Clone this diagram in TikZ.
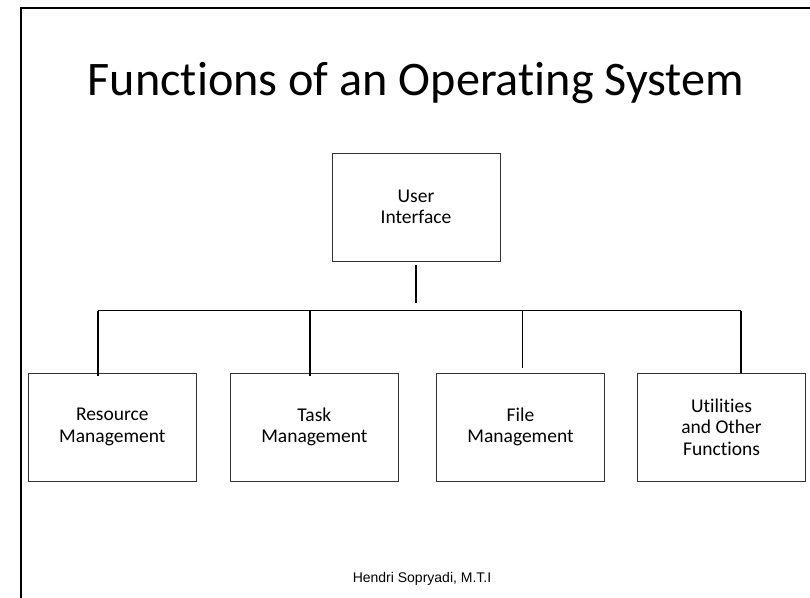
\documentclass[tikz,border=0pt]{standalone}
\usepackage{fontspec}
\setmainfont{Carlito}[Ligatures=CommonOff]
\newfontfamily\footfont{Liberation Sans}
\usetikzlibrary{calc}
\begin{document}
\begin{tikzpicture}[x=1pt,y=-1pt,
  box/.style={draw=black!80, line width=0.9pt, minimum width=168pt, minimum height=108pt, inner sep=0pt, align=center, font=\fontsize{19.5}{21.5}\selectfont},
  link/.style={line width=1.8pt},
  thinlink/.style={line width=1pt},
  bar/.style={line width=1.3pt}]
\useasboundingbox (0,0) rectangle (810,597);
\begin{scope}
\clip (0,0) rectangle (810,597);
\draw[line width=2pt] (20.5,620) |- (830,7.7);
\end{scope}
\node[anchor=base, font=\fontsize{48.2}{58}\selectfont] (title) at (416,95) {Functions of an Operating System};
\node[box] (ui) at (416,207) {User\\Interface};
\node[box] (rm) at (112.3,427) {Resource\\Management};
\node[box] (tm) at (314.4,427) {Task\\Management};
\node[box] (fm) at (520.5,427) {File\\Management};
\node[box] (uf) at (721.5,427) {Utilities\\and Other\\Functions};
\node[anchor=base, font=\footfont\fontsize{14}{16}\selectfont] (foot) at (422,582.3) {Hendri Sopryadi, M.T.I};
\coordinate (trunktop) at ($(ui.south)+(0,3.7)$);
\coordinate (trunkbot) at (416,303);
\coordinate (busL) at (97.7,310.5);
\coordinate (busR) at (741,310.5);
\coordinate (b2) at (310,310.5);
\coordinate (b3) at (522.5,310.5);
\draw[link] (trunktop) -- (trunkbot);
\draw[bar] (busL) -- (busR);
\draw[link] (busL) -- ($(rm.north -| busL)+(0,3.4)$);
\draw[link] (b2) -- ($(tm.north -| b2)+(0,3.2)$);
\draw[thinlink] (b3) -- ($(fm.north -| b3)+(0,-4.3)$);
\draw[link] (busR) -- (uf.north -| busR);
\end{tikzpicture}
\end{document}
